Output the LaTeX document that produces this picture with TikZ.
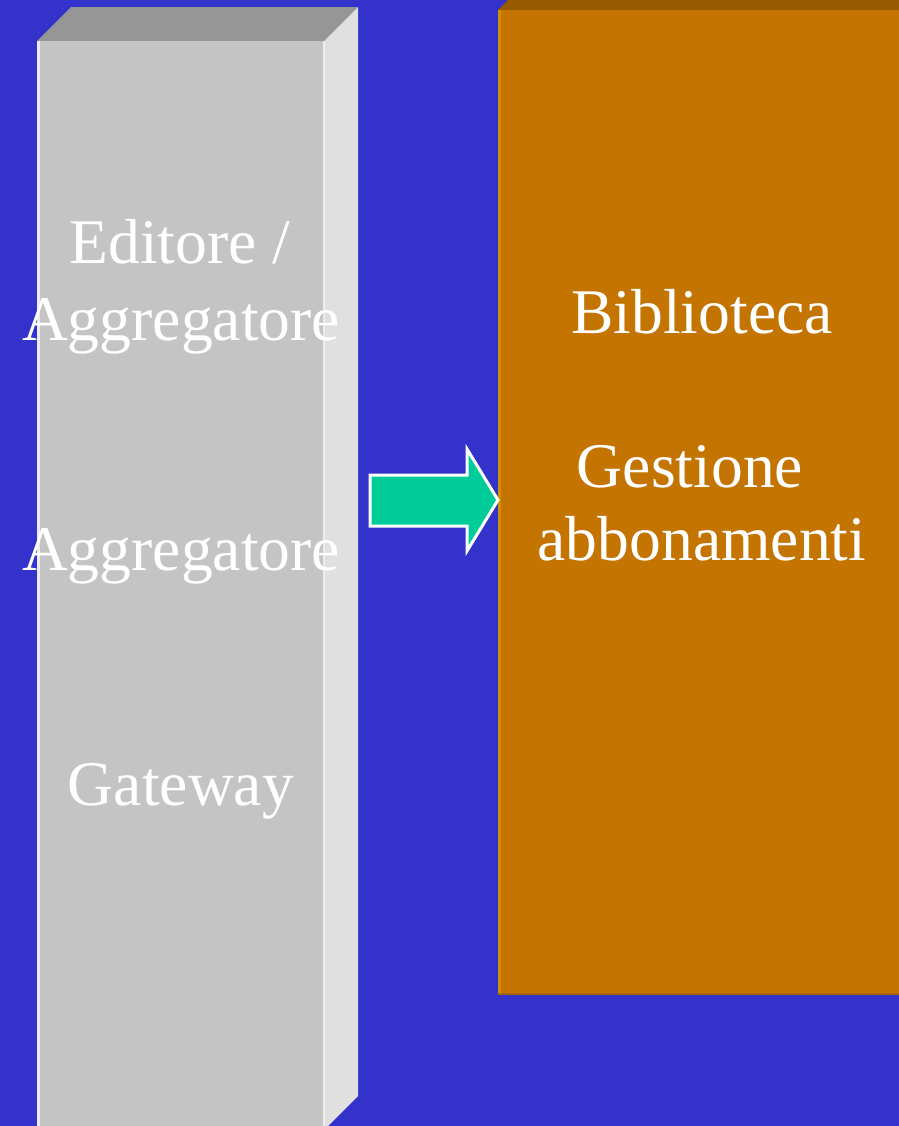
\documentclass[tikz,border=0pt]{standalone}
\usepackage{fontspec}
\setmainfont{Liberation Serif}
\definecolor{bgblue}{HTML}{3333CC}
\definecolor{colfront}{HTML}{C4C4C4}
\definecolor{coltop}{HTML}{969696}
\definecolor{colside}{HTML}{E0E0E0}
\definecolor{libfront}{HTML}{C47400}
\definecolor{libtop}{HTML}{985C00}
\definecolor{arrowgreen}{HTML}{00CC99}
\begin{document}
\begin{tikzpicture}[x=0.5pt,y=-0.5pt,font=\fontsize{31.8}{38}\selectfont,
  lbl/.style={text=white,anchor=base,inner sep=0pt}]
\pgfmathsetmacro{\d}{34}
\fill[bgblue](0,0)rectangle(899,1126);
\useasboundingbox(0,0)rectangle(899,1126);
% gray column
\fill[coltop](37,41)--++(\d,-\d)--(358,7)--(324,41)--cycle;
\fill[colside](324,41)--++(\d,-\d)--(358,1096)--++(-\d,\d)--cycle;
\fill[colfront](37,41)rectangle(324,1126);
\draw[white!85!gray,line width=1.5](38,41)--(38,1126);
\draw[white!85!gray,line width=1](324,41)--(324,1126);
% orange block
\fill[libtop](498,10)--++(10,-10)--(899,0)--(899,10)--cycle;
\fill[libfront](498,10)rectangle(899,994);
\draw[libfront!80!yellow,line width=1.5](499,10)--(499,994);
\draw[libfront!85!black,line width=1](498,994)--(899,994);
% arrow
\fill[arrowgreen,draw=white,line width=1.5](370,475)--(467,475)--(467,449)--(498,500)
  --(467,551)--(467,526)--(370,526)--cycle;
% labels
\node[lbl](ed)at(180,263){Editore /};
\node[lbl](ag1)at(181,340){Aggregatore};
\node[lbl](ag2)at(181,570){Aggregatore};
\node[lbl](gw)at(181,805){Gateway};
\node[lbl](bib)at(702,333){Biblioteca};
\node[lbl](ges)at(690,487){Gestione};
\node[lbl](abb)at(702,560){abbonamenti};
\end{tikzpicture}
\end{document}
